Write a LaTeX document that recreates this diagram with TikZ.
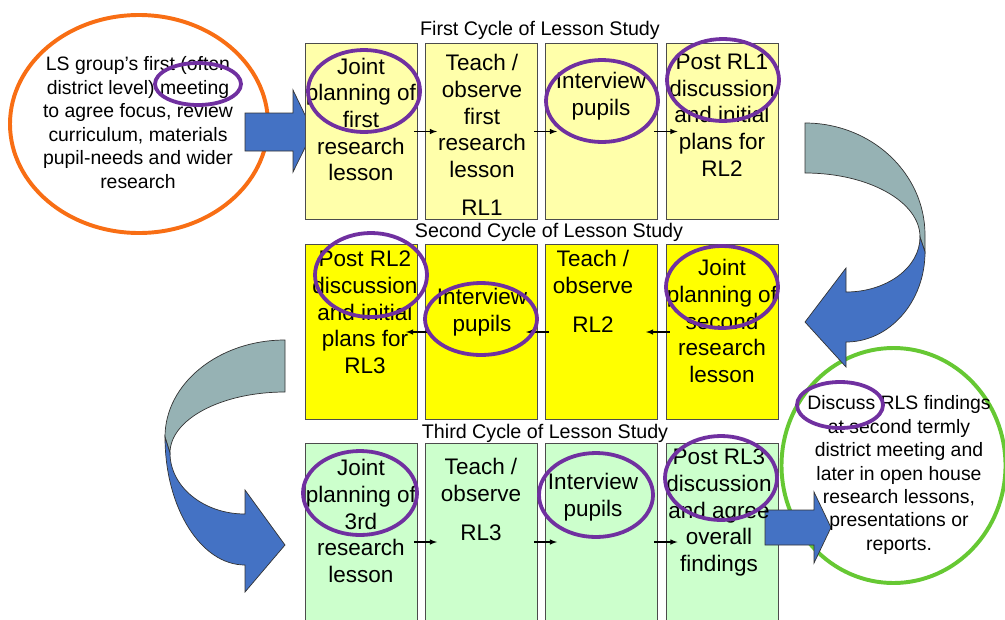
\documentclass[tikz,border=0pt]{standalone}
\usepackage{fontspec}
\setmainfont{Liberation Sans}
\usepackage{tikz}
\usetikzlibrary{arrows}
\definecolor{lsblue}{RGB}{68,114,196}
\definecolor{lsgrey}{RGB}{150,178,180}
\definecolor{lspurple}{RGB}{112,48,160}
\definecolor{lsorange}{RGB}{248,110,20}
\definecolor{lsgreen}{RGB}{102,200,51}
\definecolor{paleyellow}{RGB}{255,255,170}
\definecolor{paleyellow2}{RGB}{255,255,0}
\definecolor{palegreen}{RGB}{204,255,204}

\begin{document}
\begin{tikzpicture}[x=0.025cm,y=-0.025cm,>=latex,
  box/.style={draw=black!70,line width=0.7pt,minimum width=2.8cm,minimum height=4.375cm,inner sep=0},
  txt/.style={align=center,inner sep=0,font=\fontsize{16}{19}\selectfont},
  cyc/.style={inner sep=0,font=\fontsize{14}{17}\selectfont},
  note/.style={align=center,inner sep=0,font=\fontsize{13.8}{16.7}\selectfont},
  ring/.style={draw=lspurple,line width=2.7pt},
  band/.style={draw=black!80,line width=0.5pt},
  step arrow/.style={->,line width=0.75pt}]
  \clip (0,0) rectangle (1005,619);
  \draw [lsorange,line width=2.8pt] (139,124) ellipse [x radius=129, y radius=109];
  \draw [lsgreen,line width=2.8pt] (893.5,465.5) ellipse [x radius=112, y radius=117.5];
  \draw [band,fill=lsblue] (245,113) -- (293,113) -- (293,90) -- (313,131.5) -- (293,172) -- (293,151) -- (245,151) -- cycle;
  \node [cyc] (c1) at (540,30) {First Cycle of Lesson Study};
  \node [box,fill=paleyellow] (j1) at (361.5,131.5) {};
  \node [box,fill=paleyellow] (o1) at (481.5,131.5) {};
  \node [box,fill=paleyellow] (i1) at (601.5,131.5) {};
  \node [box,fill=paleyellow] (d1) at (722,131.5) {};
  \node [cyc] (c2) at (549,232) {Second Cycle of Lesson Study};
  \node [box,fill=paleyellow2] (d2) at (361.5,332) {};
  \node [box,fill=paleyellow2] (i2) at (481.5,332) {};
  \node [box,fill=paleyellow2] (o2) at (601.5,332) {};
  \node [box,fill=paleyellow2] (j2) at (722,332) {};
  \node [cyc] (c3) at (545,433) {Third Cycle of Lesson Study};
  \node [box,fill=palegreen,minimum height=4.9cm] (j3) at (361.5,542) {};
  \node [box,fill=palegreen,minimum height=4.9cm] (o3) at (481.5,542) {};
  \node [box,fill=palegreen,minimum height=4.9cm] (i3) at (601.5,542) {};
  \node [box,fill=palegreen,minimum height=4.9cm] (d3) at (722,542) {};
  \draw [band,fill=lsblue] (765,510) -- (814,510) -- (814,492) -- (831,527.5) -- (814,563) -- (814,545) -- (765,545) -- cycle;
  \draw [band,fill=lsgrey] (805,123) .. controls (871.3,123) and (925,173.2) .. (925,235) -- (925,252) -- (920,237)
    .. controls (920,201.7) and (868.5,173) .. (805,173) -- cycle;
  \draw [band,fill=lsblue] (920,237) .. controls (920,267.4) and (886.8,292) .. (846,292) -- (846,268) -- (805,322)
    -- (846,367) -- (846,342) .. controls (889.6,342) and (925,301.7) .. (925,252) -- cycle;
  \draw [band,fill=lsgrey] (285,340) .. controls (218.8,340) and (165,383.5) .. (165,437) -- (170,453)
    .. controls (170,419.3) and (221.5,392) .. (285,392) -- cycle;
  \draw [band,fill=lsblue] (165,437) .. controls (165,507.7) and (200.8,565) .. (245,565) -- (245,592) -- (285,545)
    -- (245,490) -- (245,514) .. controls (203.6,514) and (170,486.7) .. (170,453) -- cycle;
  \draw [step arrow] ([xshift=-0.1cm]j1.east) -- ([xshift=0.3cm]o1.west);
  \draw [step arrow] ([xshift=-0.1cm]o1.east) -- ([xshift=0.3cm]i1.west);
  \draw [step arrow] ([xshift=-0.1cm]i1.east) -- ([xshift=0.3cm]d1.west);
  \draw [step arrow] ([xshift=0.1cm]j2.west) -- ([xshift=-0.3cm]o2.east);
  \draw [step arrow] ([xshift=0.1cm]o2.west) -- ([xshift=-0.3cm]i2.east);
  \draw [step arrow] ([xshift=0.1cm]i2.west) -- ([xshift=-0.3cm]d2.east);
  \draw [step arrow] ([xshift=-0.1cm]j3.east) -- ([xshift=0.3cm]o3.west);
  \draw [step arrow] ([xshift=-0.1cm]o3.east) -- ([xshift=0.3cm]i3.west);
  \draw [step arrow] ([xshift=-0.1cm]i3.east) -- ([xshift=0.3cm]d3.west);
  \node [note] (ls) at (138,122.5) {LS group’s first (often\\district level) meeting\\to agree focus, review\\curriculum, materials\\pupil-needs and wider\\research};
  \node [note] (rls) at (899,475) {Discuss RLS findings\\at second termly\\district meeting and\\later in open house\\research lessons,\\presentations or\\reports.};
  \node [txt] (tj1) at (361,119.5) {Joint\\planning of\\first\\research\\lesson};
  \node [txt] (to1) at (482,116) {Teach /\\observe\\first\\research\\lesson};
  \node [txt] (rl1) at (482,208) {RL1};
  \node [txt] (ti1) at (601,96) {Interview\\pupils};
  \node [txt] (td1) at (722,115) {Post RL1\\discussion\\and initial\\plans for\\RL2};
  \node [txt] (td2) at (365,312.5) {Post RL2\\discussion\\and initial\\plans for\\RL3};
  \node [txt] (ti2) at (482,312) {Interview\\pupils};
  \node [txt] (to2) at (593,272) {Teach /\\observe};
  \node [txt] (rl2) at (593,325) {RL2};
  \node [txt] (tj2) at (722,321) {Joint\\planning of\\second\\research\\lesson};
  \node [txt] (tj3) at (361,521) {Joint\\planning of\\3rd\\research\\lesson};
  \node [txt] (to3) at (481,480) {Teach /\\observe};
  \node [txt] (rl3) at (481,533) {RL3};
  \node [txt] (ti3) at (593,497) {Interview\\pupils};
  \node [txt] (td3) at (719,512.5) {Post RL3\\discussion\\and agree\\overall\\findings};
  \draw [ring] (364,91) ellipse [x radius=56, y radius=41];
  \draw [ring] (602,101) ellipse [x radius=56, y radius=41];
  \draw [ring] (723,80) ellipse [x radius=56, y radius=41];
  \draw [ring] (371,275) ellipse [x radius=56, y radius=42];
  \draw [ring] (481,319) ellipse [x radius=56, y radius=36];
  \draw [ring] (722,287) ellipse [x radius=56, y radius=41];
  \draw [ring] (360,493) ellipse [x radius=57, y radius=42];
  \draw [ring] (596,495) ellipse [x radius=57, y radius=42];
  \draw [ring] (721,478) ellipse [x radius=56, y radius=42];
  \draw [ring] (198,84) ellipse [x radius=43, y radius=21];
  \draw [ring] (840,405) ellipse [x radius=43, y radius=23];
\end{tikzpicture}
\end{document}
